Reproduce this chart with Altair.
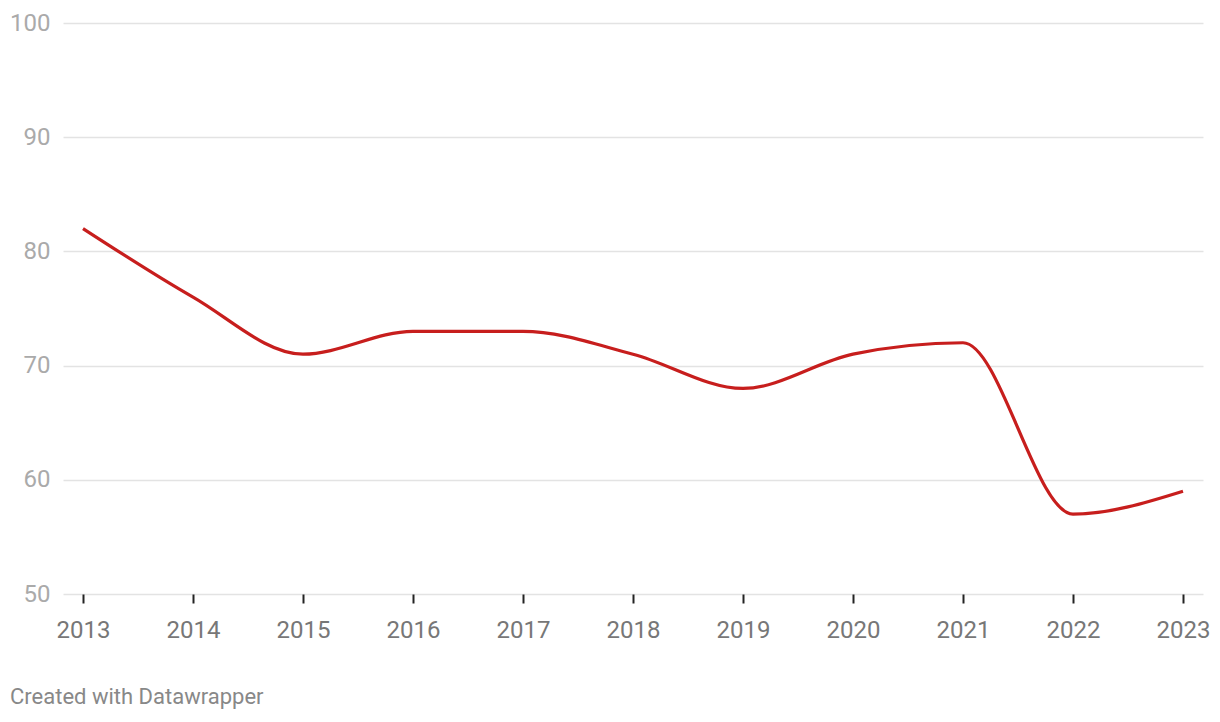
import altair as alt
import pandas as pd

years = [2013, 2014, 2015, 2016, 2017, 2018, 2019, 2020, 2021, 2022, 2023]
values = [82, 76, 71, 73, 73, 71, 68, 71, 72, 57, 59]
y_ticks = [50, 60, 70, 80, 90, 100]
footer = "Created with Datawrapper"

df = pd.DataFrame({"year": years, "value": values})

FONT = "Roboto"

line = alt.Chart(df).mark_line(
    color="#c71e1d", strokeWidth=3.2, interpolate="monotone"
).encode(
    x=alt.X("year:Q",
            scale=alt.Scale(domain=[2013 - 20 / 110, 2023 + 20 / 110], nice=False, zero=False),
            axis=alt.Axis(values=years, format="d", title=None, grid=False, domain=False,
                          ticks=True, tickSize=9, tickWidth=2, tickColor="#222",
                          labelFont=FONT, labelFontSize=24, labelColor="#777",
                          labelPadding=15, labelFlush=False)),
    y=alt.Y("value:Q",
            scale=alt.Scale(domain=[50, 100], nice=False, zero=False),
            axis=alt.Axis(values=y_ticks, title=None, domain=False, ticks=False,
                          grid=True, gridColor="#e3e3e3", gridWidth=1.5,
                          labelFont=FONT, labelFontSize=24, labelColor="#aaa",
                          labelPadding=13)),
)

foot = alt.Chart(pd.DataFrame({"t": [footer]})).mark_text(
    font=FONT, fontSize=22, color="#888", align="left", baseline="middle"
).encode(
    text="t:N", x=alt.value(-53), y=alt.value(674)
)

chart = alt.layer(line, foot).properties(
    width=1140, height=571,
    background="white",
    autosize=alt.AutoSizeParams(type="none"),
    padding={"left": 63, "top": 23, "right": 17, "bottom": 128},
).configure_view(stroke=None, strokeWidth=0)

chart.save("out.html", embed_options={"renderer": "svg", "actions": False})
